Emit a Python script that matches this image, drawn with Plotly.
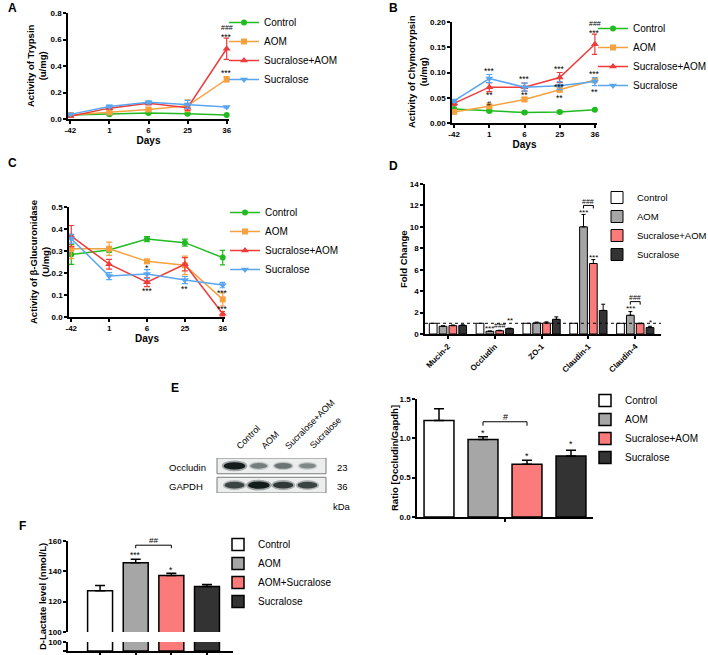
import plotly.graph_objects as go

W, H = 708, 655
FONT = "Arial, 'Liberation Sans', Helvetica, sans-serif"

# ---------------- data ----------------
days = ["-42", "1", "6", "25", "36"]
groups = ["Control", "AOM", "Sucralose+AOM", "Sucralose"]

# Panel A: trypsin activity (u/mg)
trypsin_control = [0.030, 0.035, 0.045, 0.040, 0.030]
trypsin_aom = [0.030, 0.050, 0.072, 0.100, 0.300]
trypsin_sucralose_aom = [0.020, 0.082, 0.118, 0.085, 0.530]
trypsin_sucralose = [0.035, 0.095, 0.126, 0.110, 0.090]
trypsin_err_control = [0.004, 0.004, 0.005, 0.004, 0.003]
trypsin_err_aom = [0.004, 0.008, 0.010, 0.045, 0.020]
trypsin_err_sucralose_aom = [0.005, 0.010, 0.012, 0.020, 0.080]
trypsin_err_sucralose = [0.004, 0.010, 0.010, 0.030, 0.006]

# Panel B: chymotrypsin activity (u/mg)
chymo_control = [0.0275, 0.024, 0.021, 0.022, 0.026]
chymo_aom = [0.022, 0.033, 0.0466, 0.066, 0.085]
chymo_sucralose_aom = [0.039, 0.071, 0.071, 0.090, 0.156]
chymo_sucralose = [0.044, 0.088, 0.071, 0.074, 0.082]
chymo_err_control = [0.002, 0.002, 0.002, 0.002, 0.002]
chymo_err_aom = [0.003, 0.004, 0.004, 0.005, 0.005]
chymo_err_sucralose_aom = [0.004, 0.009, 0.008, 0.010, 0.020]
chymo_err_sucralose = [0.003, 0.008, 0.008, 0.008, 0.008]

# Panel C: beta-glucuronidase activity (U/mg)
gluc_control = [0.284, 0.305, 0.354, 0.338, 0.270]
gluc_aom = [0.310, 0.310, 0.253, 0.235, 0.080]
gluc_sucralose_aom = [0.368, 0.240, 0.158, 0.240, 0.015]
gluc_sucralose = [0.356, 0.186, 0.195, 0.168, 0.145]
gluc_err_control = [0.045, 0.010, 0.012, 0.016, 0.033]
gluc_err_aom = [0.045, 0.030, 0.008, 0.042, 0.030]
gluc_err_sucralose_aom = [0.048, 0.022, 0.020, 0.030, 0.010]
gluc_err_sucralose = [0.020, 0.016, 0.020, 0.016, 0.012]

# Panel D: fold change of barrier genes
genes = ["Mucin-2", "Occludin", "ZO-1", "Claudin-1", "Claudin-4"]
fold_control = [1.0, 1.0, 1.0, 1.0, 1.0]
fold_aom = [0.72, 0.25, 1.03, 10.0, 1.75]
fold_sucralose_aom = [0.78, 0.31, 1.03, 6.58, 0.97]
fold_sucralose = [0.80, 0.50, 1.37, 2.20, 0.60]
fold_err_control = [0.0, 0.0, 0.0, 0.0, 0.0]
fold_err_aom = [0.05, 0.03, 0.08, 1.16, 0.34]
fold_err_sucralose_aom = [0.06, 0.04, 0.10, 0.37, 0.05]
fold_err_sucralose = [0.06, 0.05, 0.23, 0.58, 0.12]

# Panel E: western blot + ratio
blot_lanes = ["Control", "AOM", "Sucralose+AOM", "Sucralose"]
occludin_band = [1.0, 0.5, 0.55, 0.45]
gapdh_band = [0.8, 1.0, 0.85, 0.8]
ratio_mean = [1.227, 0.984, 0.669, 0.775]
ratio_err = [0.150, 0.036, 0.051, 0.073]

# Panel F: D-lactate
lactate_groups = ["Control", "AOM", "AOM+Sucralose", "Sucralose"]
lactate_mean = [127.2, 145.7, 137.2, 130.0]
lactate_err = [3.5, 2.3, 1.5, 1.3]

# ---------------- styling ----------------
line_colors = ["#21bb21", "#f7a13e", "#ee3b3b", "#58a6f0"]
line_symbols = ["circle", "square", "triangle-up", "triangle-down"]
bar_fills = ["#ffffff", "#a6a6a6", "#fb7b7b", "#333333"]


def fx(p):
    return p / W


def fy(p):
    return 1 - p / H


def axis_style(**kw):
    base = dict(showline=True, linecolor="black", linewidth=1.5,
                ticks="outside", ticklen=3, tickwidth=1.5, tickcolor="black",
                showgrid=False, zeroline=False, fixedrange=True,
                tickfont=dict(family=FONT, size=8, color="black", weight="bold"))
    base.update(kw)
    return base


def atitle(text, standoff=2):
    return dict(text=text, standoff=standoff,
                font=dict(family=FONT, size=10, color="black", weight="bold"))


def legend_at(text_x, top, size=10):
    return dict(x=fx(text_x - 40), y=fy(top), xanchor="left", yanchor="top",
                bgcolor="rgba(0,0,0,0)", borderwidth=0, itemwidth=30,
                font=dict(family=FONT, size=size, color="black"))


fig = go.Figure()

# ---------------- line panels A, B, C ----------------
line_panels = [
    ("x", "y", "legend",
     [trypsin_control, trypsin_aom, trypsin_sucralose_aom, trypsin_sucralose],
     [trypsin_err_control, trypsin_err_aom, trypsin_err_sucralose_aom, trypsin_err_sucralose]),
    ("x2", "y2", "legend2",
     [chymo_control, chymo_aom, chymo_sucralose_aom, chymo_sucralose],
     [chymo_err_control, chymo_err_aom, chymo_err_sucralose_aom, chymo_err_sucralose]),
    ("x3", "y3", "legend3",
     [gluc_control, gluc_aom, gluc_sucralose_aom, gluc_sucralose],
     [gluc_err_control, gluc_err_aom, gluc_err_sucralose_aom, gluc_err_sucralose]),
]
for xa, ya, lg, means, errs in line_panels:
    for g, name in enumerate(groups):
        c = line_colors[g]
        fig.add_trace(go.Scatter(
            x=days, y=means[g], name=name, legend=lg, xaxis=xa, yaxis=ya,
            mode="lines+markers", cliponaxis=False,
            line=dict(color=c, width=1.5),
            marker=dict(symbol=line_symbols[g], size=7 if g >= 2 else 6, color=c),
            error_y=dict(type="data", array=errs[g], color=c, thickness=1.2, width=3)))

# ---------------- panel D bars ----------------
fold_means = [fold_control, fold_aom, fold_sucralose_aom, fold_sucralose]
fold_errs = [fold_err_control, fold_err_aom, fold_err_sucralose_aom, fold_err_sucralose]
slot = 0.21
for g, name in enumerate(groups):
    fig.add_trace(go.Bar(
        x=[i + (g - 1.5) * slot for i in range(len(genes))], y=fold_means[g],
        width=0.165, name=name, legend="legend4", xaxis="x4", yaxis="y4",
        marker=dict(color=bar_fills[g], line=dict(color="black", width=1)),
        error_y=dict(type="data", symmetric=False, array=fold_errs[g],
                     arrayminus=[0] * len(genes), color="black", thickness=1, width=2,
                     visible=any(e > 0 for e in fold_errs[g]))))

# ---------------- panel E ratio bars ----------------
for g, name in enumerate(groups):
    fig.add_trace(go.Bar(
        x=[g], y=[ratio_mean[g]], width=0.68, name=name, legend="legend5",
        xaxis="x5", yaxis="y5",
        marker=dict(color=bar_fills[g], line=dict(color="black", width=1.5)),
        error_y=dict(type="data", symmetric=False, array=[ratio_err[g]], arrayminus=[0],
                     color="black", thickness=1.5, width=5)))

# ---------------- panel F lactate bars (broken axis) ----------------
for g, name in enumerate(lactate_groups):
    for ya, show in (("y6", True), ("y7", False)):
        fig.add_trace(go.Bar(
            x=[g], y=[lactate_mean[g]], width=0.7, name=name, legend="legend6",
            showlegend=show, xaxis="x6", yaxis=ya,
            marker=dict(color=bar_fills[g], line=dict(color="black", width=1.5)),
            error_y=dict(type="data", symmetric=False, array=[lactate_err[g]],
                         arrayminus=[0], color="black", thickness=1.5, width=5,
                         visible=(ya == "y6"))))

# ---------------- axes ----------------
cat_line = dict(type="category", range=[-0.06, 4.06])
fig.update_layout(
    xaxis=axis_style(domain=[fx(68), fx(229)], anchor="y", title=atitle("Days"), **cat_line),
    yaxis=axis_style(domain=[fy(119), fy(13)], anchor="x", range=[0, 0.8], dtick=0.2,
                     tickformat=".1f"),
    xaxis2=axis_style(domain=[fx(452), fx(597)], anchor="y2", title=atitle("Days"), **cat_line),
    yaxis2=axis_style(domain=[fy(123), fy(22)], anchor="x2", range=[0, 0.2], dtick=0.05,
                      tickformat=".2f"),
    xaxis3=axis_style(domain=[fx(69), fx(225)], anchor="y3", title=atitle("Days"), **cat_line),
    yaxis3=axis_style(domain=[fy(317), fy(207)], anchor="x3", range=[0, 0.5], dtick=0.1,
                      tickformat=".1f"),
    xaxis4=axis_style(domain=[fx(425), fx(661)], anchor="y4", range=[-0.49, 4.55],
                      tickvals=list(range(len(genes))), ticktext=genes, tickangle=-45),
    yaxis4=axis_style(domain=[fy(334), fy(184)], anchor="x4", range=[0, 14], dtick=2),
    xaxis5=axis_style(domain=[fx(417), fx(593)], anchor="y5", range=[-0.5, 3.5],
                      tickvals=[1.5], ticktext=[""]),
    yaxis5=axis_style(domain=[fy(517), fy(399)], anchor="x5", range=[0, 1.5], dtick=0.5,
                      tickformat=".1f"),
    xaxis6=axis_style(domain=[fx(68), fx(233)], anchor="y7", range=[-0.9, 3.73],
                      tickvals=list(range(4)), ticktext=[""] * 4),
    yaxis6=axis_style(domain=[fy(632), fy(541)], anchor="x6", range=[100, 160],
                      tickvals=[100, 120, 140, 160]),
    yaxis7=axis_style(domain=[fy(651), fy(642)], anchor="x6", range=[0, 100],
                      tickvals=[0, 100]),
    xaxis7=dict(domain=[fx(217), fx(326)], anchor="y8", range=[-0.72, 3.76], visible=False,
                fixedrange=True),
    yaxis8=dict(domain=[fy(493), fy(458)], anchor="x7", range=[0, 2], visible=False,
                fixedrange=True),
)

# y-axis titles (placed as rotated text beside each axis)
for text, xp, yp in (("Activity of Trypsin<br>(u/mg)", 36, 66),
                     ("Activity of Chymotrypsin<br>(u/mg)", 418, 72),
                     ("Activity of β-Glucuronidase<br>(U/mg)", 39, 262),
                     ("Fold Change", 404, 259),
                     ("Ratio [Occludin/Gapdh]", 394, 458),
                     ("D-Lactate level (nmol/L)", 42, 597)):
    fig.add_annotation(x=fx(xp), y=fy(yp), xref="paper", yref="paper", text=text,
                       textangle=-90, showarrow=False, xanchor="center", yanchor="middle",
                       font=dict(family=FONT, size=9.5, color="black", weight="bold"))

# ---------------- legends ----------------
fig.update_layout(
    legend=legend_at(264, 8),
    legend2=legend_at(633, 14),
    legend3=legend_at(265, 198),
    legend4=legend_at(637, 183, size=9.5),
    legend5=legend_at(625, 386),
    legend6=legend_at(258, 530),
)

# ---------------- significance marks ----------------
yscale = {"y": (0.8, 106), "y2": (0.2, 101), "y3": (0.5, 110), "y4": (14, 150),
          "y5": (1.5, 118), "y6": (60, 91)}


def dpx(yref, px):
    span, h = yscale[yref]
    return px * span / h


def star(xref, yref, x, y, text, shift, size=8):
    fig.add_annotation(x=x, y=y, xref=xref, yref=yref, text=text, showarrow=False,
                       yshift=shift, yanchor="middle", xanchor="center", borderpad=0,
                       font=dict(family=FONT, size=size, color="black"))


# line panels: (panel index, group, day index, text, side, px shift)
line_sig = [
    (0, 2, 4, "***", "top", 1), (0, 2, 4, "###", "top", 11), (0, 1, 4, "***", "top", 4),
    (1, 3, 1, "***", "top", 4), (1, 2, 1, "**", "bottom", -3), (1, 2, 1, "#", "bottom", -12),
    (1, 3, 2, "***", "top", 4), (1, 2, 2, "**", "bottom", -4),
    (1, 2, 3, "***", "top", 3), (1, 3, 3, "***", "mean", -1), (1, 1, 3, "**", "bottom", -6),
    (1, 2, 4, "***", "top", 1), (1, 2, 4, "###", "top", 11), (1, 1, 4, "***", "top", 4),
    (1, 3, 4, "**", "bottom", -6),
    (2, 3, 2, "*", "top", 2), (2, 2, 2, "***", "bottom", -4), (2, 3, 3, "**", "bottom", -5),
    (2, 1, 4, "***", "top", 0), (2, 2, 4, "***", "top", 3),
]
for p, g, i, text, side, shift in line_sig:
    xa, ya, _, means, errs = line_panels[p]
    m, e = means[g][i], errs[g][i]
    y = m + e if side == "top" else (m - e if side == "bottom" else m)
    # category axes take the serial index of the category for annotations
    star(xa, ya, i, y, text, shift, size=7 if "#" in text else 8.5)

# panel D stars: (group, gene index, text, px shift above error top)
fold_sig = [(1, 1, "***", 3), (2, 1, "###", 5), (3, 1, "**", 8), (1, 3, "***", 2),
            (2, 3, "***", 2), (1, 4, "***", 3), (3, 4, "*", 4)]
for g, i, text, shift in fold_sig:
    star("x4", "y4", i + (g - 1.5) * slot, fold_means[g][i] + fold_errs[g][i], text, shift,
         size=7 if "#" in text else 8)


def bracket(xref, yref, xa, xb, base, top_px, leg_px, text, text_px, size=7):
    yt = base + dpx(yref, top_px)
    yl = base + dpx(yref, leg_px)
    fig.add_shape(type="path", xref=xref, yref=yref,
                  path=f"M {xa},{yl} L {xa},{yt} L {xb},{yt} L {xb},{yl}",
                  line=dict(color="black", width=1))
    star(xref, yref, (xa + xb) / 2, base, text, text_px, size=size)


for i, (tp, lp, tx) in {3: (9, 6, 13), 4: (10, 7, 14)}.items():
    base = fold_means[1][i] + fold_errs[1][i]
    bracket("x4", "y4", i - 0.5 * slot, i + 0.5 * slot, base, tp, lp, "###", tx)

# panel E
for g, shift in ((1, 4), (2, 4), (3, 6)):
    star("x5", "y5", g, ratio_mean[g] + ratio_err[g], "*", shift, size=9)
bracket("x5", "y5", 1, 2, ratio_mean[1] + ratio_err[1], 15, 11, "#", 20, size=9)

# panel F
star("x6", "y6", 1, lactate_mean[1] + lactate_err[1], "***", 4, size=8.5)
star("x6", "y6", 2, lactate_mean[2] + lactate_err[2], "*", 3, size=8.5)
bracket("x6", "y6", 1, 2, lactate_mean[1] + lactate_err[1], 14, 11, "##", 19, size=8)

# dotted reference line at fold change 1
fig.add_shape(type="line", xref="x4 domain", yref="y4", x0=0, x1=1, y0=1, y1=1,
              line=dict(color="black", width=1, dash="dot"))

# ---------------- western blot drawing ----------------
for y0, y1 in ((1.1, 2.0), (0.0, 0.9)):
    fig.add_shape(type="rect", xref="x7 domain", yref="y8", x0=0, x1=1, y0=y0, y1=y1,
                  line=dict(color="#7a7a7a", width=1), fillcolor="#eceeee", layer="below")
for row_c, bands in ((1.55, occludin_band), (0.45, gapdh_band)):
    for i, v in enumerate(bands):
        w = 0.6 + 0.45 * v
        h = 0.25 + 0.25 * v
        for sw, sh, alpha in ((1.0, 1.25, 0.35), (0.85, 0.85, 1.0)):
            level = int(215 - 195 * v)
            fig.add_shape(type="circle", xref="x7", yref="y8",
                          x0=i - w * sw / 2, x1=i + w * sw / 2,
                          y0=row_c - h * sh / 2, y1=row_c + h * sh / 2,
                          line=dict(width=0),
                          fillcolor=f"rgba({level},{level + 8},{level + 8},{alpha})")
for i, lane in enumerate(blot_lanes):
    fig.add_annotation(x=i - 0.1, y=fy(454), xref="x7", yref="paper", text=lane,
                       textangle=-45, xanchor="left", yanchor="bottom", showarrow=False,
                       font=dict(family=FONT, size=9, color="black"))
for text, xp, yp, anchor in (("Occludin", 167, 467, "left"), ("GAPDH", 167, 486, "left"),
                             ("23", 342, 467, "center"), ("36", 342, 486, "center"),
                             ("kDa", 342, 506, "center")):
    fig.add_annotation(x=fx(xp), y=fy(yp), xref="paper", yref="paper", text=text,
                       xanchor=anchor, yanchor="middle", showarrow=False,
                       font=dict(family=FONT, size=9.5, color="black"))

# panel letters
for letter, xp, yp in (("A", 12, 8), ("B", 393, 8), ("C", 12, 163), ("D", 393, 166),
                       ("E", 175, 388), ("F", 22, 526)):
    fig.add_annotation(x=fx(xp), y=fy(yp), xref="paper", yref="paper", text=letter,
                       showarrow=False, xanchor="center", yanchor="middle",
                       font=dict(family=FONT, size=12, color="black", weight="bold"))

fig.update_layout(
    template="none", width=W, height=H, barmode="overlay",
    margin=dict(l=0, r=0, t=0, b=0, autoexpand=False),
    paper_bgcolor="white", plot_bgcolor="rgba(0,0,0,0)",
    font=dict(family=FONT, size=10, color="black"),
    showlegend=True,
)

fig.write_html("out.html", config={"displayModeBar": False},
               post_script="document.body.style.margin='0';")
